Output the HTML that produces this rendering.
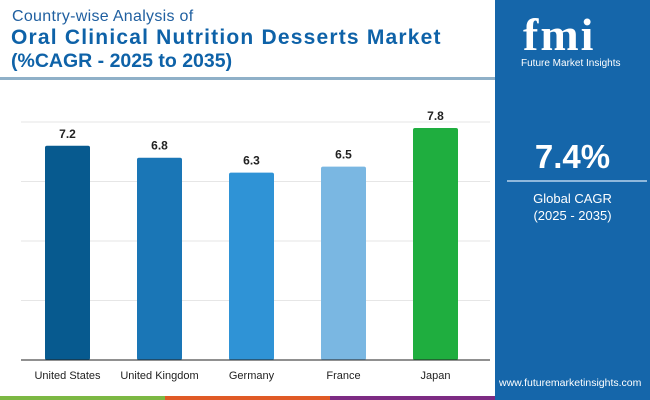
<!DOCTYPE html>
<html><head><meta charset="utf-8"><style>
body{margin:0;width:650px;height:400px;overflow:hidden;background:#fff;font-family:"Liberation Sans",sans-serif;position:relative}
.abs{position:absolute}
</style></head><body>
<div class="abs" style="left:12px;top:8px;font-size:16px;color:#1f5fa0;letter-spacing:0.3px">Country-wise Analysis of</div>
<div class="abs" style="left:11px;top:26px;font-size:21px;font-weight:bold;color:#0e62a8;white-space:nowrap;letter-spacing:1.2px">Oral Clinical Nutrition Desserts Market</div>
<div class="abs" style="left:11px;top:50px;font-size:19.5px;font-weight:bold;color:#0e62a8;white-space:nowrap">(%CAGR - 2025 to 2035)</div>
<div class="abs" style="left:0;top:77px;width:495px;height:3px;background:#8fb0c8"></div>
<svg class="abs" style="left:0;top:0" width="495" height="400" id="chart"></svg>
<div class="abs" style="left:0;top:396px;width:165px;height:4px;background:#7cb843"></div>
<div class="abs" style="left:165px;top:396px;width:165px;height:4px;background:#e05a26"></div>
<div class="abs" style="left:330px;top:396px;width:165px;height:4px;background:#7d2b83"></div>
<div class="abs" style="left:495px;top:0;width:155px;height:400px;background:#1566aa">
  <div class="abs" style="left:28px;top:8px;font-size:46px;font-weight:bold;color:#fff;letter-spacing:2px;font-family:'Liberation Serif',serif">fmi</div>
  <div class="abs" style="left:26px;top:58px;font-size:10px;color:#fff">Future Market Insights</div>
  <div class="abs" style="left:0;width:155px;top:138px;text-align:center;font-size:33px;font-weight:bold;color:#fff">7.4%</div>
  <div class="abs" style="left:12px;top:180px;width:140px;height:2px;background:#8fb8dc"></div>
  <div class="abs" style="left:0;width:155px;top:190px;text-align:center;font-size:13px;color:#fff;line-height:17px">Global CAGR<br>(2025 - 2035)</div>
  <div class="abs" style="left:4px;top:377px;font-size:10.5px;color:#fff">www.futuremarketinsights.com</div>
</div>
<script>
const categories=["United States","United Kingdom","Germany","France","Japan"];
const values=[7.2,6.8,6.3,6.5,7.8];
const colors=["#075a8f","#1a76b6","#2f93d6","#7ab7e2","#1fae3f"];
const gridTicks=[0,2,4,6,8];
const svg=document.getElementById('chart');
const NS='http://www.w3.org/2000/svg';
const baseY=360,scale=29.75,x0=21,step=92,barW=45;
const y=v=>baseY-v*scale;
const xc=i=>67.5+i*step;
function mk(t,a){const e=document.createElementNS(NS,t);for(const k in a)e.setAttribute(k,a[k]);svg.appendChild(e);return e;}
gridTicks.forEach(t=>{if(t===0)return;const l=mk('line',{x1:x0,x2:490,y1:y(t),y2:y(t),stroke:'#e6e6e6','stroke-width':1});

});
values.forEach((v,i)=>{
const r=mk('rect',{x:xc(i)-barW/2,y:y(v),width:barW,height:v*scale,fill:colors[i],rx:2});


const t=mk('text',{x:xc(i),y:y(v)-8,'text-anchor':'middle','font-size':12,'font-weight':'bold',fill:'#222'});t.textContent=v.toFixed(1);


const c=mk('text',{x:xc(i),y:379,'text-anchor':'middle','font-size':11,fill:'#222'});c.textContent=categories[i];


});
const ax=mk('line',{x1:x0,x2:490,y1:baseY,y2:baseY,stroke:'#222','stroke-width':1});


</script>
</body></html>
